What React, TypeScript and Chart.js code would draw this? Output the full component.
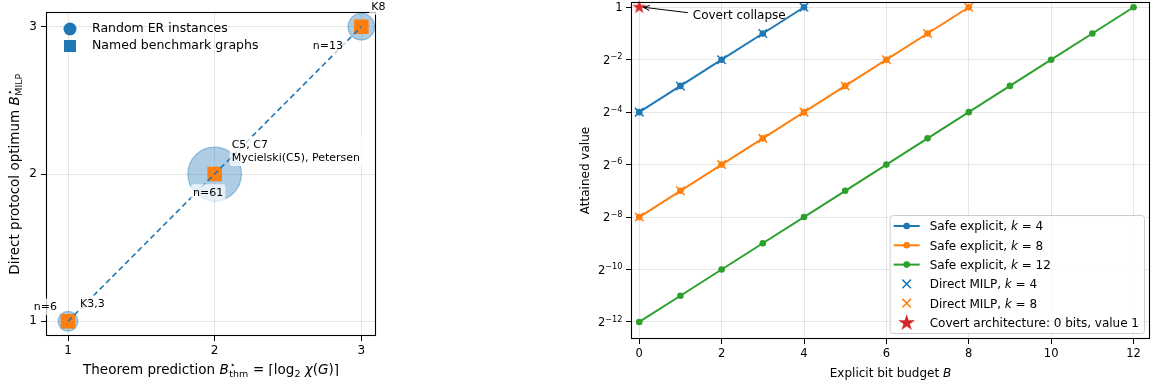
import React, { useEffect, useRef } from "react";
import { Chart, registerables, Scale } from "chart.js";

// ---------------- Left panel data ----------------
const erThm = [1, 2, 3];
const erMilp = [1, 2, 3];
const erCounts = [6, 61, 13];
const benchThm = [1, 2, 3];
const benchMilp = [1, 2, 3];
const benchNames = ["K3,3", "C5, C7\nMycielski(C5), Petersen", "K8"];
const diagX = [1, 3];
const diagY = [1, 3];
const leftXTicks = [1, 2, 3];
const leftYTicks = [1, 2, 3];

// ---------------- Right panel data ----------------
const kValues = [4, 8, 12];
const budgetK4 = [0, 1, 2, 3, 4];
const valueK4 = [1 / 16, 1 / 8, 1 / 4, 1 / 2, 1];
const budgetK8 = [0, 1, 2, 3, 4, 5, 6, 7, 8];
const valueK8 = [1 / 256, 1 / 128, 1 / 64, 1 / 32, 1 / 16, 1 / 8, 1 / 4, 1 / 2, 1];
const budgetK12 = [0, 1, 2, 3, 4, 5, 6, 7, 8, 9, 10, 11, 12];
const valueK12 = [1 / 4096, 1 / 2048, 1 / 1024, 1 / 512, 1 / 256, 1 / 128, 1 / 64, 1 / 32, 1 / 16, 1 / 8, 1 / 4, 1 / 2, 1];
const milpBudgetK4 = [0, 1, 2, 3, 4];
const milpValueK4 = [1 / 16, 1 / 8, 1 / 4, 1 / 2, 1];
const milpBudgetK8 = [0, 1, 2, 3, 4, 5, 6, 7, 8];
const milpValueK8 = [1 / 256, 1 / 128, 1 / 64, 1 / 32, 1 / 16, 1 / 8, 1 / 4, 1 / 2, 1];
const covertBudget = [0];
const covertValue = [1];
const rightXTicks = [0, 2, 4, 6, 8, 10, 12];
const rightYTickExps = [-12, -10, -8, -6, -4, -2, 0];
const covertNote = "Covert collapse";
const covertNoteAt = { x: 1.3, y: 0.79 };

// ---------------- styles ----------------
const FONT = '"DejaVu Sans", sans-serif';
const BLUE = "#1f77b4";
const ORANGE = "#ff7f0e";
const GREEN = "#2ca02c";
const RED = "#d62728";
const GRID = "rgba(176,176,176,0.32)";

class Log2Scale extends Scale {
  static id = "log2";
  static defaults = {};
  _startValue = 0;
  _valueRange = 1;
  determineDataLimits() {
    const { min, max } = (this as any).getMinMax(true);
    (this as any).min = min;
    (this as any).max = max;
  }
  buildTicks() {
    const ticks: any[] = [];
    const self = this as any;
    for (let e = Math.ceil(Math.log2(self.min)); e <= Math.floor(Math.log2(self.max)); e++) {
      ticks.push({ value: Math.pow(2, e) });
    }
    return ticks;
  }
  configure() {
    super.configure();
    const self = this as any;
    this._startValue = Math.log2(self.min);
    this._valueRange = Math.log2(self.max) - this._startValue;
  }
  getPixelForValue(value: number) {
    const self = this as any;
    if (value === undefined || value <= 0) value = self.min;
    return self.getPixelForDecimal((Math.log2(value) - this._startValue) / this._valueRange);
  }
  getValueForPixel(pixel: number) {
    const d = (this as any).getDecimalForPixel(pixel);
    return Math.pow(2, this._startValue + d * this._valueRange);
  }
}

Chart.register(...registerables, Log2Scale as any);
Chart.defaults.font.family = FONT;
Chart.defaults.color = "#000";

type Seg = { t?: string; it?: boolean; sub?: boolean; stack?: [string, string] };

function fnt(size: number, it?: boolean) {
  return `${it ? "italic " : ""}${size}px ${FONT}`;
}
function segWidth(ctx: CanvasRenderingContext2D, s: Seg, size: number) {
  if (s.stack) {
    ctx.font = fnt(size * 0.7);
    return Math.max(ctx.measureText(s.stack[0]).width, ctx.measureText(s.stack[1]).width) + size * 0.08;
  }
  ctx.font = fnt(s.sub ? size * 0.7 : size, s.it);
  return ctx.measureText(s.t || "").width;
}
function drawRich(
  ctx: CanvasRenderingContext2D,
  segs: Seg[],
  cx: number,
  cy: number,
  size: number,
  opts: { rotate?: boolean; align?: "left" | "center" | "right" } = {}
) {
  ctx.save();
  ctx.translate(cx, cy);
  if (opts.rotate) ctx.rotate(-Math.PI / 2);
  const total = segs.reduce((a, s) => a + segWidth(ctx, s, size), 0);
  let x = opts.align === "left" ? 0 : opts.align === "right" ? -total : -total / 2;
  const base = size * 0.36;
  ctx.fillStyle = "#000";
  ctx.textBaseline = "alphabetic";
  ctx.textAlign = "left";
  for (const s of segs) {
    const w = segWidth(ctx, s, size);
    if (s.stack) {
      ctx.font = fnt(size * 0.7);
      ctx.fillText(s.stack[0], x + size * 0.08, base - size * 0.42);
      ctx.fillText(s.stack[1], x + size * 0.04, base + size * 0.24);
    } else {
      ctx.font = fnt(s.sub ? size * 0.7 : size, s.it);
      ctx.fillText(s.t || "", x, base + (s.sub ? size * 0.22 : 0));
    }
    x += w;
  }
  ctx.restore();
  return total;
}

function roundRect(ctx: CanvasRenderingContext2D, x: number, y: number, w: number, h: number, r: number) {
  ctx.beginPath();
  ctx.moveTo(x + r, y);
  ctx.lineTo(x + w - r, y);
  ctx.arcTo(x + w, y, x + w, y + r, r);
  ctx.lineTo(x + w, y + h - r);
  ctx.arcTo(x + w, y + h, x + w - r, y + h, r);
  ctx.lineTo(x + r, y + h);
  ctx.arcTo(x, y + h, x, y + h - r, r);
  ctx.lineTo(x, y + r);
  ctx.arcTo(x, y, x + r, y, r);
  ctx.closePath();
}

function boxedText(
  ctx: CanvasRenderingContext2D,
  text: string,
  x: number,
  y0: number,
  align: "left" | "center" | "right",
  size = 11,
  lh = 13
) {
  const lines = text.split("\n");
  ctx.font = fnt(size);
  const w = Math.max(...lines.map((l) => ctx.measureText(l).width));
  const left = align === "left" ? x : align === "right" ? x - w : x - w / 2;
  const pad = 2;
  const top = y0 - size * 0.62 - pad;
  const bottom = y0 + (lines.length - 1) * lh + size * 0.55 + pad;
  ctx.save();
  ctx.fillStyle = "rgba(255,255,255,0.72)";
  roundRect(ctx, left - pad, top, w + 2 * pad, bottom - top, 2);
  ctx.fill();
  ctx.fillStyle = "#000";
  ctx.textBaseline = "middle";
  ctx.textAlign = "left";
  lines.forEach((l, i) => {
    const lw = ctx.measureText(l).width;
    const lx = align === "left" ? left : align === "right" ? left + w - lw : left + (w - lw) / 2;
    ctx.fillText(l, lx, y0 + i * lh);
  });
  ctx.restore();
}

function drawFrame(ctx: CanvasRenderingContext2D, ca: any) {
  ctx.save();
  ctx.strokeStyle = "#000";
  ctx.lineWidth = 1.1;
  ctx.strokeRect(Math.round(ca.left) + 0.5, Math.round(ca.top) + 0.5, Math.round(ca.width) - 1, Math.round(ca.height) - 1);
  ctx.restore();
}

function starPath(ctx: CanvasRenderingContext2D, cx: number, cy: number, outer: number) {
  const inner = outer * 0.382;
  ctx.beginPath();
  for (let i = 0; i < 10; i++) {
    const r = i % 2 === 0 ? outer : inner;
    const a = -Math.PI / 2 + (i * Math.PI) / 5;
    const px = cx + r * Math.cos(a);
    const py = cy + r * Math.sin(a);
    if (i === 0) ctx.moveTo(px, py);
    else ctx.lineTo(px, py);
  }
  ctx.closePath();
}

function makeStar(outer: number, color: string) {
  const size = Math.ceil(outer * 2 + 4);
  const c = document.createElement("canvas");
  c.width = size;
  c.height = size;
  const g = c.getContext("2d")!;
  starPath(g, size / 2, size / 2, outer);
  g.fillStyle = color;
  g.fill();
  return c;
}

function erRadius(n: number) {
  return Math.sqrt(30 + 11.3 * n);
}

const zeroPad = (s: any) => {
  s.paddingTop = 0;
  s.paddingBottom = 0;
  s.paddingLeft = 0;
  s.paddingRight = 0;
};

// ---------------- Left chart ----------------
function leftConfig(): any {
  const ER_LABEL = [
    { dx: -11, dy: -14, align: "right" },
    { dx: -6.5, dy: 19, align: "center" },
    { dx: -33.5, dy: 19, align: "center" },
  ];
  const BENCH_LABEL = [
    { dx: 12, dy: -17, align: "left" },
    { dx: 17, dy: -29, align: "left" },
    { dx: 10, dy: -20, align: "left" },
  ];
  const plugin = {
    id: "leftDecor",
    afterDraw(chart: any) {
      const { ctx, chartArea: ca, scales } = chart;
      const xs = scales.x;
      const ys = scales.y;
      drawFrame(ctx, ca);
      // legend
      ctx.save();
      ctx.fillStyle = BLUE;
      ctx.beginPath();
      ctx.arc(ca.left + 24, ca.top + 17, 6.5, 0, Math.PI * 2);
      ctx.fill();
      ctx.fillRect(ca.left + 24 - 6, ca.top + 34 - 6, 12, 12);
      ctx.fillStyle = "#000";
      ctx.font = fnt(12.5);
      ctx.textBaseline = "middle";
      ctx.textAlign = "left";
      ctx.fillText("Random ER instances", ca.left + 46, ca.top + 17);
      ctx.fillText("Named benchmark graphs", ca.left + 46, ca.top + 34);
      ctx.restore();
      // annotations
      erThm.forEach((x, i) => {
        const px = xs.getPixelForValue(x);
        const py = ys.getPixelForValue(erMilp[i]);
        const L = ER_LABEL[i];
        boxedText(ctx, `n=${erCounts[i]}`, px + L.dx, py + L.dy, L.align as any);
      });
      benchThm.forEach((x, i) => {
        const px = xs.getPixelForValue(x);
        const py = ys.getPixelForValue(benchMilp[i]);
        const L = BENCH_LABEL[i];
        boxedText(ctx, benchNames[i], px + L.dx, py + L.dy, L.align as any);
      });
      // axis titles
      drawRich(
        ctx,
        [
          { t: "Theorem prediction " },
          { t: "B", it: true },
          { stack: ["⋆", "thm"] },
          { t: " = ⌈log" },
          { t: "2", sub: true },
          { t: " " },
          { t: "χ", it: true },
          { t: "(" },
          { t: "G", it: true },
          { t: ")⌉" },
        ],
        (ca.left + ca.right) / 2,
        369,
        13.5
      );
      drawRich(
        ctx,
        [{ t: "Direct protocol optimum " }, { t: "B", it: true }, { stack: ["⋆", "MILP"] }],
        14,
        (ca.top + ca.bottom) / 2,
        13.5,
        { rotate: true }
      );
    },
  };
  return {
    type: "scatter",
    data: {
      datasets: [
        {
          label: "diag",
          data: diagX.map((x, i) => ({ x, y: diagY[i] })),
          showLine: true,
          borderColor: BLUE,
          borderWidth: 1.6,
          borderDash: [5.5, 3.5],
          pointRadius: 0,
          fill: false,
          order: 0,
        },
        {
          label: "Named benchmark graphs",
          data: benchThm.map((x, i) => ({ x, y: benchMilp[i] })),
          pointStyle: "rect",
          pointRadius: 10.3,
          backgroundColor: ORANGE,
          borderColor: ORANGE,
          borderWidth: 0,
          order: 1,
        },
        {
          label: "Random ER instances",
          data: erThm.map((x, i) => ({ x, y: erMilp[i] })),
          pointStyle: "circle",
          pointRadius: (c: any) => erRadius(erCounts[c.dataIndex] || 1),
          backgroundColor: "rgba(31,119,180,0.37)",
          borderColor: "rgba(31,119,180,0.42)",
          borderWidth: 1.2,
          order: 2,
        },
      ],
    },
    options: {
      animation: false,
      responsive: false,
      devicePixelRatio: 1,
      events: [],
      layout: { padding: { left: 0, top: 12, right: 450 - 376, bottom: 0 }, autoPadding: false },
      plugins: { legend: { display: false }, tooltip: { enabled: false } },
      scales: {
        x: {
          type: "linear",
          min: 0.85,
          max: 3.1,
          bounds: "data",
          afterBuildTicks: (s: any) => (s.ticks = leftXTicks.map((v) => ({ value: v }))),
          afterFit: (s: any) => {
            s.height = 390 - 336;
            zeroPad(s);
          },
          grid: { color: GRID, tickColor: "#000", tickLength: 5, lineWidth: 1 },
          border: { display: false },
          ticks: { font: { size: 12 }, padding: 3, color: "#000", maxRotation: 0 },
        },
        y: {
          type: "linear",
          min: 0.9,
          max: 3.1,
          bounds: "data",
          afterBuildTicks: (s: any) => (s.ticks = leftYTicks.map((v) => ({ value: v }))),
          afterFit: (s: any) => {
            s.width = 46;
            zeroPad(s);
          },
          grid: { color: GRID, tickColor: "#000", tickLength: 5, lineWidth: 1 },
          border: { display: false },
          ticks: { font: { size: 12 }, padding: 4, color: "#000" },
        },
      },
    },
    plugins: [plugin],
  };
}

// ---------------- Right chart ----------------
function rightConfig(): any {
  const starData = makeStar(7.3, RED);
  const pts = (xs: number[], ys: number[]) => xs.map((x, i) => ({ x, y: ys[i] }));
  const safe = (xs: number[], ys: number[], color: string, k: number) => ({
    label: `Safe explicit, k = ${k}`,
    data: pts(xs, ys),
    showLine: true,
    borderColor: color,
    backgroundColor: color,
    borderWidth: 2,
    pointRadius: 3.3,
    pointBorderWidth: 0,
    order: 2,
  });
  const milp = (xs: number[], ys: number[], color: string, k: number) => ({
    label: `Direct MILP, k = ${k}`,
    data: pts(xs, ys),
    showLine: false,
    pointStyle: "crossRot",
    pointRadius: 6,
    borderColor: color,
    backgroundColor: color,
    pointBorderWidth: 1.5,
    order: 1,
  });
  const legendItems: { kind: string; color: string; segs: Seg[] }[] = [
    ...kValues.map((k, i) => ({
      kind: "line",
      color: [BLUE, ORANGE, GREEN][i],
      segs: [{ t: "Safe explicit, " }, { t: "k", it: true }, { t: ` = ${k}` }],
    })),
    ...kValues.slice(0, 2).map((k, i) => ({
      kind: "x",
      color: [BLUE, ORANGE][i],
      segs: [{ t: "Direct MILP, " }, { t: "k", it: true }, { t: ` = ${k}` }],
    })),
    { kind: "star", color: RED, segs: [{ t: "Covert architecture: 0 bits, value 1" }] },
  ];
  const plugin = {
    id: "rightDecor",
    afterDraw(chart: any) {
      const { ctx, chartArea: ca, scales } = chart;
      const xs = scales.x;
      const ys = scales.y;
      drawFrame(ctx, ca);
      // y tick labels as powers of two
      ctx.save();
      ctx.fillStyle = "#000";
      ctx.textBaseline = "alphabetic";
      ctx.textAlign = "left";
      ys.ticks.forEach((tk: any) => {
        const e = Math.round(Math.log2(tk.value));
        const py = ys.getPixelForValue(tk.value);
        const right = ca.left - 8.5;
        const mainSize = 11.5;
        const base = py + mainSize * 0.36;
        if (e === 0) {
          ctx.font = fnt(mainSize);
          const w = ctx.measureText("1").width;
          ctx.fillText("1", right - w, base);
          return;
        }
        const expText = "\u2212" + String(-e);
        ctx.font = fnt(8.2);
        const we = ctx.measureText(expText).width;
        ctx.font = fnt(mainSize);
        const wm = ctx.measureText("2").width;
        ctx.fillText("2", right - we - wm, base);
        ctx.font = fnt(8.2);
        ctx.fillText(expText, right - we, base - 4.4);
      });
      ctx.restore();
      // annotation with arrow
      const sx = xs.getPixelForValue(covertBudget[0]);
      const sy = ys.getPixelForValue(covertValue[0]);
      const tx = xs.getPixelForValue(covertNoteAt.x);
      const ty = ys.getPixelForValue(covertNoteAt.y);
      ctx.save();
      ctx.font = fnt(12);
      ctx.fillStyle = "#000";
      ctx.textBaseline = "middle";
      ctx.textAlign = "left";
      ctx.fillText(covertNote, tx, ty);
      const x1 = tx - 5, y1 = ty - 3.5, x2 = sx + 4, y2 = sy;
      ctx.strokeStyle = "#000";
      ctx.lineWidth = 1;
      ctx.beginPath();
      ctx.moveTo(x1, y1);
      ctx.lineTo(x2, y2);
      const ang = Math.atan2(y2 - y1, x2 - x1);
      const hl = 7;
      ctx.moveTo(x2 - hl * Math.cos(ang - 0.38), y2 - hl * Math.sin(ang - 0.38));
      ctx.lineTo(x2, y2);
      ctx.lineTo(x2 - hl * Math.cos(ang + 0.38), y2 - hl * Math.sin(ang + 0.38));
      ctx.stroke();
      ctx.restore();
      // legend
      ctx.save();
      let maxW = 0;
      legendItems.forEach((it) => {
        maxW = Math.max(maxW, it.segs.reduce((a, s) => a + segWidth(ctx, s, 12), 0));
      });
      const w = 40 + maxW + 5;
      const h = 118;
      const left = ca.right - 6 - w;
      const top = ca.bottom - 6 - h;
      ctx.fillStyle = "rgba(255,255,255,0.8)";
      roundRect(ctx, left + 0.5, top + 0.5, w, h, 3);
      ctx.fill();
      ctx.strokeStyle = "#cccccc";
      ctx.lineWidth = 1;
      ctx.stroke();
      legendItems.forEach((it, i) => {
        const cy = top + 11 + i * 19.3;
        const mx = left + 17;
        ctx.strokeStyle = it.color;
        ctx.fillStyle = it.color;
        if (it.kind === "line") {
          ctx.lineWidth = 2;
          ctx.beginPath();
          ctx.moveTo(left + 4, cy);
          ctx.lineTo(left + 30, cy);
          ctx.stroke();
          ctx.beginPath();
          ctx.arc(mx, cy, 3.3, 0, Math.PI * 2);
          ctx.fill();
        } else if (it.kind === "x") {
          ctx.lineWidth = 1.5;
          const d = 4.3;
          ctx.beginPath();
          ctx.moveTo(mx - d, cy - d);
          ctx.lineTo(mx + d, cy + d);
          ctx.moveTo(mx - d, cy + d);
          ctx.lineTo(mx + d, cy - d);
          ctx.stroke();
        } else {
          starPath(ctx, mx, cy + 0.5, 8.8);
          ctx.fill();
        }
        drawRich(ctx, it.segs, left + 40, cy, 12, { align: "left" });
      });
      ctx.restore();
      // axis titles
      drawRich(ctx, [{ t: "Explicit bit budget " }, { t: "B", it: true }], (ca.left + ca.right) / 2, 373, 12);
      drawRich(ctx, [{ t: "Attained value" }], 45, (ca.top + ca.bottom) / 2, 12, { rotate: true });
    },
  };
  return {
    type: "scatter",
    data: {
      datasets: [
        safe(budgetK4, valueK4, BLUE, kValues[0]),
        safe(budgetK8, valueK8, ORANGE, kValues[1]),
        safe(budgetK12, valueK12, GREEN, kValues[2]),
        milp(milpBudgetK4, milpValueK4, BLUE, kValues[0]),
        milp(milpBudgetK8, milpValueK8, ORANGE, kValues[1]),
        {
          label: "Covert architecture: 0 bits, value 1",
          data: pts(covertBudget, covertValue),
          pointStyle: starData,
          pointRadius: 8,
          clip: false,
          order: 0,
        },
      ],
    },
    options: {
      animation: false,
      responsive: false,
      devicePixelRatio: 1,
      events: [],
      layout: { padding: { left: 0, top: 2, right: 616 - 610, bottom: 0 }, autoPadding: false },
      plugins: { legend: { display: false }, tooltip: { enabled: false } },
      scales: {
        x: {
          type: "linear",
          min: -0.2,
          max: 12.4,
          bounds: "data",
          afterBuildTicks: (s: any) => (s.ticks = rightXTicks.map((v) => ({ value: v }))),
          afterFit: (s: any) => {
            s.height = 390 - 339;
            zeroPad(s);
          },
          grid: { color: GRID, tickColor: "#000", tickLength: 5, lineWidth: 1 },
          border: { display: false },
          ticks: { font: { size: 11.5 }, padding: 3, color: "#000", maxRotation: 0 },
        },
        y: {
          type: "log2",
          min: Math.pow(2, -12.65),
          max: Math.pow(2, 0.2),
          afterBuildTicks: (s: any) => (s.ticks = rightYTickExps.map((e) => ({ value: Math.pow(2, e) }))),
          afterFit: (s: any) => {
            s.width = 91;
            zeroPad(s);
          },
          grid: { color: GRID, tickColor: "#000", tickLength: 5, lineWidth: 1 },
          border: { display: false },
          ticks: { display: false },
        },
      },
    },
    plugins: [plugin],
  };
}

export default function App() {
  const leftRef = useRef<HTMLCanvasElement>(null);
  const rightRef = useRef<HTMLCanvasElement>(null);
  useEffect(() => {
    const lc = new Chart(leftRef.current!, leftConfig());
    const rc = new Chart(rightRef.current!, rightConfig());
    return () => {
      lc.destroy();
      rc.destroy();
    };
  }, []);
  return (
    <div style={{ position: "absolute", left: 0, top: 0, width: 1156, height: 390, background: "#fff", overflow: "hidden" }}>
      <canvas ref={leftRef} width={450} height={390} style={{ position: "absolute", left: 0, top: 0, width: 450, height: 390 }} />
      <canvas ref={rightRef} width={616} height={390} style={{ position: "absolute", left: 540, top: 0, width: 616, height: 390 }} />
    </div>
  );
}
